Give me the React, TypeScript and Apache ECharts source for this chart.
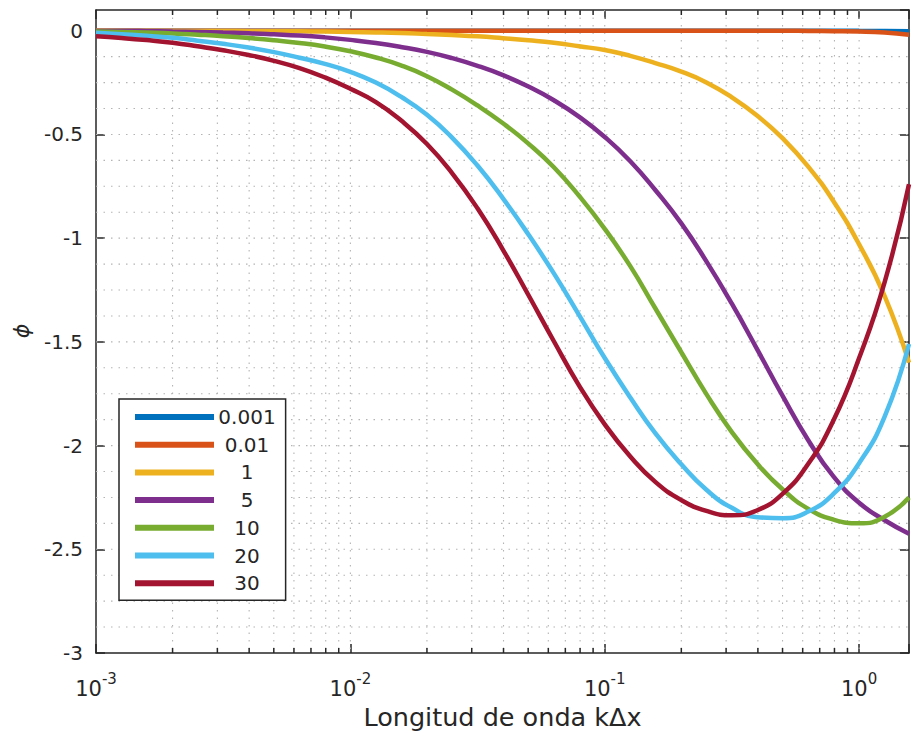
import React, { useEffect, useRef } from 'react';
import * as echarts from 'echarts';

const FONT = '"DejaVu Sans", sans-serif';
const INK = '#262626';
const GRID_COLOR = '#b4b4b4';

const X_MIN = 0.001;
const X_MAX = 1.5708;
const Y_MIN = -3;
const Y_MAX = 0.1;

const seriesNames = ['0.001', '0.01', '1', '5', '10', '20', '30'];
const seriesColors = ['#0072BD', '#D95319', '#EDB120', '#7E2F8E', '#77AC30', '#4DBEEE', '#A2142F'];

// wavenumber k*dx samples (log axis, ~0.1 decade apart)
const kdx = [
  0.001, 0.00126, 0.00158, 0.002, 0.00251, 0.00316, 0.00398, 0.00501, 0.00631, 0.00794,
  0.01, 0.0126, 0.0158, 0.02, 0.0251, 0.0316, 0.0398, 0.0501, 0.0631, 0.0794,
  0.1, 0.126, 0.158, 0.2, 0.251, 0.316, 0.398, 0.501, 0.631, 0.794,
  1.0, 1.26, 1.5708,
];

const phi0001 = [
  0, 0, 0, 0, 0, 0, 0, 0, 0, 0,
  0, 0, 0, 0, 0, 0, 0, 0, 0, 0,
  0, 0, 0, 0, 0, 0, 0, 0, 0, 0,
  -0.0005, -0.001, -0.002,
];

const phi001 = [
  0, 0, 0, 0, 0, 0, 0, 0, 0, 0,
  0, 0, 0, 0, 0, 0, 0, 0, 0, 0,
  0, 0, 0, 0, 0, 0, 0, 0, -0.001, -0.002,
  -0.004, -0.009, -0.019,
];

const phi1 = [
  -0.0005, -0.0007, -0.0009, -0.001, -0.0013, -0.0017, -0.002, -0.0025, -0.0029, -0.0037,
  -0.006, -0.008, -0.011, -0.016, -0.021, -0.027, -0.036, -0.046, -0.058, -0.075,
  -0.093, -0.121, -0.156, -0.197, -0.249, -0.321, -0.41, -0.519, -0.655, -0.823,
  -1.03, -1.28, -1.6,
];

const phi5 = [
  -0.001, -0.001, -0.002, -0.004, -0.006, -0.009, -0.012, -0.017, -0.023, -0.032,
  -0.044, -0.059, -0.078, -0.102, -0.132, -0.169, -0.214, -0.269, -0.335, -0.415,
  -0.512, -0.629, -0.768, -0.929, -1.112, -1.316, -1.537, -1.762, -1.974, -2.15,
  -2.276, -2.36, -2.425,
];

const phi10 = [
  -0.004, -0.006, -0.009, -0.013, -0.019, -0.026, -0.035, -0.046, -0.059, -0.076,
  -0.099, -0.129, -0.167, -0.219, -0.284, -0.36, -0.446, -0.544, -0.658, -0.797,
  -0.955, -1.135, -1.338, -1.55, -1.752, -1.935, -2.088, -2.212, -2.305, -2.357,
  -2.375, -2.343, -2.25,
];

const phi20 = [
  -0.01, -0.017, -0.024, -0.034, -0.048, -0.063, -0.081, -0.103, -0.13, -0.16,
  -0.198, -0.25, -0.318, -0.405, -0.515, -0.65, -0.808, -0.982, -1.17, -1.372,
  -1.578, -1.768, -1.94, -2.09, -2.213, -2.3, -2.345, -2.35, -2.318, -2.232,
  -2.085, -1.86, -1.51,
];

const phi30 = [
  -0.027, -0.035, -0.045, -0.058, -0.075, -0.094, -0.117, -0.145, -0.18, -0.225,
  -0.28, -0.344, -0.432, -0.546, -0.686, -0.856, -1.056, -1.274, -1.497, -1.712,
  -1.898, -2.053, -2.175, -2.263, -2.315, -2.336, -2.312, -2.232, -2.088, -1.877,
  -1.578, -1.212, -0.74,
];

const seriesValues = [phi0001, phi001, phi1, phi5, phi10, phi20, phi30];

const xDecades = [0.001, 0.01, 0.1, 1];
const xMinorMultipliers = [2, 3, 4, 5, 6, 7, 8, 9];
const yGridStep = 0.125;

export default function App() {
  const ref = useRef<HTMLDivElement>(null);

  useEffect(() => {
    if (!ref.current) return;
    const chart = echarts.init(ref.current, null, { renderer: 'svg' });

    const minorX: number[] = [];
    xDecades.forEach((d) =>
      xMinorMultipliers.forEach((m) => {
        const v = m * d;
        if (v < X_MAX) minorX.push(v);
      })
    );
    const vGrid = [...xDecades.filter((d) => d > X_MIN), ...minorX];
    const hGrid: number[] = [];
    for (let i = 1; Y_MIN + i * yGridStep <= 1e-9; i++) hGrid.push(Y_MIN + i * yGridStep);

    const dotted = { stroke: GRID_COLOR, lineWidth: 1.1, lineDash: [1.5, 6], fill: null };
    const tickStyle = { stroke: INK, lineWidth: 1.5, fill: null };

    const gridSeries: any[] = [
      {
        type: 'custom',
        name: 'vgrid',
        coordinateSystem: 'cartesian2d',
        silent: true,
        z: 1,
        data: vGrid.map((v) => [v, Y_MIN]),
        renderItem: (params: any, api: any) => {
          const cs = params.coordSys;
          const x = api.coord([api.value(0), Y_MIN])[0];
          return {
            type: 'line',
            shape: { x1: x, y1: cs.y, x2: x, y2: cs.y + cs.height },
            style: dotted,
          };
        },
      },
      {
        type: 'custom',
        name: 'hgrid',
        coordinateSystem: 'cartesian2d',
        silent: true,
        z: 1,
        data: hGrid.map((v) => [X_MIN, v]),
        renderItem: (params: any, api: any) => {
          const cs = params.coordSys;
          const y = api.coord([X_MIN, api.value(1)])[1];
          return {
            type: 'line',
            shape: { x1: cs.x, y1: y, x2: cs.x + cs.width, y2: y },
            style: dotted,
          };
        },
      },
      {
        type: 'custom',
        name: 'xminorticks',
        coordinateSystem: 'cartesian2d',
        silent: true,
        z: 5,
        data: minorX.map((v) => [v, Y_MIN]),
        renderItem: (params: any, api: any) => {
          const cs = params.coordSys;
          const x = api.coord([api.value(0), Y_MIN])[0];
          const yb = cs.y + cs.height;
          return {
            type: 'group',
            children: [
              { type: 'line', shape: { x1: x, y1: yb, x2: x, y2: yb - 5 }, style: tickStyle },
              { type: 'line', shape: { x1: x, y1: cs.y, x2: x, y2: cs.y + 5 }, style: tickStyle },
            ],
          };
        },
      },
    ];

    const lineSeries = seriesNames.map((name, i) => ({
      type: 'line',
      name,
      xAxisIndex: 0,
      yAxisIndex: 0,
      data: kdx.map((x, j) => [x, seriesValues[i][j]]),
      showSymbol: false,
      symbol: 'none',
      smooth: 0.5,
      color: seriesColors[i],
      lineStyle: { width: 4.5, color: seriesColors[i] },
      z: 3,
    }));

    const axisLine = { show: true, onZero: false, lineStyle: { color: INK, width: 1.5 } };
    const axisTick = { show: true, inside: true, length: 9, lineStyle: { color: INK, width: 1.5 } };

    const option: any = {
      animation: false,
      backgroundColor: '#ffffff',
      grid: { left: 96, top: 10, width: 819, height: 643, containLabel: false },
      xAxis: [
        {
          type: 'log',
          logBase: 10,
          min: X_MIN,
          max: X_MAX,
          position: 'bottom',
          axisLine,
          axisTick,
          splitLine: { show: false },
          minorTick: { show: false },
          axisLabel: {
            margin: 18,
            color: INK,
            formatter: (v: number) => {
              const l = Math.log10(v);
              const e = Math.round(l);
              if (Math.abs(l - e) > 1e-6) return '';
              return `{b|10}{s|${e}}`;
            },
            rich: {
              b: { fontSize: 21, fontFamily: FONT, color: INK, lineHeight: 28, verticalAlign: 'bottom' },
              s: { fontSize: 15, fontFamily: FONT, color: INK, lineHeight: 15, verticalAlign: 'top' },
            },
          },
          name: 'Longitud de onda k\u0394x',
          nameLocation: 'middle',
          nameGap: 46,
          nameTextStyle: { fontSize: 25.5, fontFamily: FONT, color: INK },
        },
        {
          type: 'log',
          logBase: 10,
          min: X_MIN,
          max: X_MAX,
          position: 'top',
          axisLine,
          axisTick,
          axisLabel: { show: false },
          splitLine: { show: false },
        },
      ],
      yAxis: [
        {
          type: 'value',
          min: Y_MIN,
          max: Y_MAX,
          interval: 0.5,
          position: 'left',
          axisLine,
          axisTick,
          splitLine: { show: false },
          axisLabel: {
            margin: 13,
            fontSize: 20,
            fontFamily: FONT,
            color: INK,
            showMaxLabel: false,
            formatter: (v: number) => String(Math.round(v * 10) / 10),
          },
        },
        {
          type: 'value',
          min: Y_MIN,
          max: Y_MAX,
          interval: 0.5,
          position: 'right',
          axisLine,
          axisTick,
          splitLine: { show: false },
          axisLabel: { show: false },
        },
      ],
      legend: {
        orient: 'vertical',
        left: 119,
        top: 399,
        padding: [8, 10, 7, 16],
        itemWidth: 79,
        itemHeight: 6,
        itemGap: 7.7,
        icon: 'rect',
        selectedMode: false,
        backgroundColor: '#ffffff',
        borderColor: INK,
        borderWidth: 1.5,
        borderRadius: 0,
        data: seriesNames,
        formatter: (name: string) => `{t|${name}}`,
        textStyle: {
          color: INK,
          fontFamily: FONT,
          fontSize: 20,
          rich: {
            t: { width: 56, align: 'center', fontSize: 20, lineHeight: 24, fontFamily: FONT, color: INK },
          },
        },
      },
      graphic: [
        {
          type: 'text',
          x: 21,
          y: 331,
          rotation: Math.PI / 2,
          style: {
            text: '\u03D5',
            font: `italic 22px ${FONT}`,
            fill: INK,
            align: 'center',
            verticalAlign: 'middle',
          },
        },
      ],
      series: [...gridSeries, ...lineSeries],
    };

    chart.setOption(option);
    return () => chart.dispose();
  }, []);

  return (
    <div
      ref={ref}
      style={{ position: 'fixed', left: 0, top: 0, width: 912, height: 745, background: '#fff' }}
    />
  );
}
